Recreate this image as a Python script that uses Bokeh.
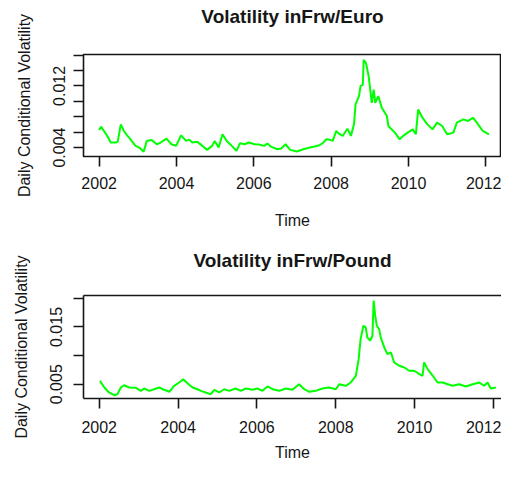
from bokeh.plotting import figure
from bokeh.layouts import column
from bokeh.models import FixedTicker, Range1d, LinearAxis, CustomJSTickFormatter
from bokeh.embed import file_html
from bokeh.resources import INLINE

# ---- data ----
years_euro = [2002.00, 2002.05, 2002.10, 2002.18, 2002.25, 2002.30, 2002.43, 2002.48, 2002.56, 2002.59,
              2002.64, 2002.73, 2002.81, 2002.94, 2003.04, 2003.15, 2003.23, 2003.36, 2003.49, 2003.59,
              2003.74, 2003.87, 2003.99, 2004.12, 2004.25, 2004.33, 2004.41, 2004.54, 2004.67, 2004.79,
              2004.92, 2004.99, 2005.09, 2005.19, 2005.30, 2005.43, 2005.55, 2005.64, 2005.76, 2005.87,
              2006.02, 2006.13, 2006.27, 2006.35, 2006.44, 2006.61, 2006.71, 2006.82, 2006.94, 2007.11,
              2007.28, 2007.45, 2007.57, 2007.70, 2007.80, 2007.87, 2007.95, 2008.04, 2008.13, 2008.20,
              2008.30, 2008.42, 2008.51, 2008.59, 2008.63, 2008.72, 2008.76, 2008.82, 2008.84, 2008.90,
              2008.97, 2009.01, 2009.05, 2009.10, 2009.14, 2009.22, 2009.31, 2009.44, 2009.48, 2009.65,
              2009.77, 2009.87, 2009.98, 2010.11, 2010.19, 2010.25, 2010.36, 2010.49, 2010.62, 2010.74,
              2010.87, 2011.00, 2011.16, 2011.25, 2011.42, 2011.54, 2011.67, 2011.80, 2011.92, 2012.08]
vol_euro = [0.00628, 0.00671, 0.00632, 0.00572, 0.00516, 0.00465, 0.00465, 0.00477, 0.00701, 0.00671,
            0.00615, 0.00555, 0.00507, 0.00422, 0.00400, 0.00345, 0.00486, 0.00499, 0.00443, 0.00465,
            0.00516, 0.00443, 0.00422, 0.00559, 0.00486, 0.00503, 0.00465, 0.00474, 0.00422, 0.00370,
            0.00422, 0.00486, 0.00400, 0.00572, 0.00486, 0.00422, 0.00357, 0.00455, 0.00443, 0.00465,
            0.00443, 0.00439, 0.00422, 0.00452, 0.00413, 0.00378, 0.00387, 0.00443, 0.00370, 0.00348,
            0.00378, 0.00400, 0.00413, 0.00430, 0.00465, 0.00507, 0.00503, 0.00486, 0.00615, 0.00581,
            0.00551, 0.00645, 0.00551, 0.00701, 0.00959, 0.01067, 0.01196, 0.01217, 0.01539, 0.01497,
            0.01325, 0.01152, 0.00981, 0.01152, 0.00981, 0.01067, 0.00916, 0.00809, 0.00680, 0.00594,
            0.00507, 0.00555, 0.00594, 0.00636, 0.00572, 0.00894, 0.00787, 0.00701, 0.00636, 0.00723,
            0.00680, 0.00572, 0.00594, 0.00723, 0.00765, 0.00745, 0.00787, 0.00701, 0.00615, 0.00572]

years_pound = [2002.02, 2002.13, 2002.25, 2002.38, 2002.46, 2002.55, 2002.63, 2002.76, 2002.93, 2003.06,
               2003.14, 2003.27, 2003.39, 2003.52, 2003.65, 2003.78, 2003.90, 2004.03, 2004.13, 2004.24,
               2004.37, 2004.49, 2004.58, 2004.70, 2004.83, 2004.92, 2005.04, 2005.17, 2005.30, 2005.46,
               2005.59, 2005.72, 2005.89, 2006.01, 2006.14, 2006.27, 2006.40, 2006.57, 2006.73, 2006.90,
               2007.07, 2007.20, 2007.33, 2007.49, 2007.66, 2007.83, 2008.00, 2008.09, 2008.25, 2008.38,
               2008.51, 2008.58, 2008.63, 2008.70, 2008.76, 2008.80, 2008.87, 2008.93, 2008.96, 2009.00,
               2009.04, 2009.10, 2009.14, 2009.23, 2009.31, 2009.40, 2009.48, 2009.61, 2009.74, 2009.86,
               2009.99, 2010.12, 2010.20, 2010.24, 2010.33, 2010.46, 2010.58, 2010.71, 2010.84, 2010.96,
               2011.13, 2011.30, 2011.47, 2011.64, 2011.76, 2011.85, 2011.93, 2012.06]
vol_pound = [0.00560, 0.00442, 0.00355, 0.00307, 0.00325, 0.00442, 0.00482, 0.00442, 0.00437, 0.00384,
             0.00425, 0.00384, 0.00412, 0.00442, 0.00402, 0.00367, 0.00472, 0.00530, 0.00588, 0.00518,
             0.00442, 0.00412, 0.00384, 0.00355, 0.00325, 0.00402, 0.00355, 0.00412, 0.00384, 0.00425,
             0.00384, 0.00425, 0.00402, 0.00425, 0.00384, 0.00460, 0.00412, 0.00384, 0.00425, 0.00402,
             0.00500, 0.00412, 0.00367, 0.00384, 0.00425, 0.00442, 0.00412, 0.00500, 0.00472, 0.00530,
             0.00647, 0.00938, 0.01288, 0.01522, 0.01492, 0.01317, 0.01260, 0.01347, 0.01960, 0.01697,
             0.01522, 0.01463, 0.01317, 0.01142, 0.01025, 0.01055, 0.00880, 0.00822, 0.00792, 0.00735,
             0.00735, 0.00675, 0.00647, 0.00880, 0.00763, 0.00647, 0.00530, 0.00530, 0.00500, 0.00472,
             0.00500, 0.00460, 0.00500, 0.00530, 0.00472, 0.00530, 0.00425, 0.00442]

x_ticks = [2002, 2004, 2006, 2008, 2010, 2012]
euro_labeled_ticks = [0.004, 0.012]
euro_other_ticks = [0.006, 0.008, 0.010, 0.014, 0.016]
pound_labeled_ticks = [0.005, 0.015]
pound_other_ticks = [0.010, 0.020]

titles = ["Volatility inFrw/Euro", "Volatility inFrw/Pound"]
y_label = "Daily Conditional Volatility"
x_label = "Time"

FONT = "Liberation Sans"
INK = "#161616"


def make_panel(title, xs, ys, xr, yr, major, minor, width, height, bl, bt, bb,
               ytick_std, ylab_std, xtick_std, xlab_std, title_gap, closed):
    p = figure(width=width, height=height, output_backend="svg", toolbar_location=None,
               x_range=Range1d(*xr), y_range=Range1d(*yr),
               min_border_left=bl, min_border_right=0, min_border_top=bt, min_border_bottom=bb)
    p.line(xs, ys, line_color="#00ff00", line_width=2)
    p.grid.visible = False
    p.background_fill_color = "white"
    p.border_fill_color = "white"

    xa = p.below[0]
    ya = p.left[0]
    xa.ticker = FixedTicker(ticks=x_ticks, minor_ticks=[])
    ya.ticker = FixedTicker(ticks=major, minor_ticks=minor)
    for ax in (xa, ya):
        ax.major_label_text_font = FONT
        ax.major_label_text_font_size = "16px"
        ax.major_label_text_color = INK
        ax.axis_label_text_font = FONT
        ax.axis_label_text_font_size = "16px"
        ax.axis_label_text_font_style = "normal"
        ax.axis_label_text_color = INK
        ax.major_tick_in = 0
        ax.major_tick_out = 10
        ax.minor_tick_in = 0
        ax.minor_tick_out = 10
        ax.major_tick_line_color = INK
        ax.minor_tick_line_color = INK
        ax.major_tick_line_width = 1.6
        ax.minor_tick_line_width = 1.6
        ax.axis_line_color = None if closed else INK
        ax.axis_line_width = 1.6
    xa.axis_label = x_label
    xa.major_label_standoff = xtick_std
    xa.axis_label_standoff = xlab_std
    ya.axis_label = y_label
    ya.major_label_orientation = "parallel"
    ya.major_label_standoff = ytick_std
    ya.axis_label_standoff = ylab_std

    # blank axis above the frame: one invisible, unlabelled tick gives it a height that
    # lifts the title clear of the box (for the open box its line is the top side)
    top = LinearAxis(ticker=FixedTicker(ticks=[(xr[0] + xr[1]) / 2], minor_ticks=[]),
                     formatter=CustomJSTickFormatter(code="return ''"),
                     major_label_text_font_size="0px", major_label_standoff=0,
                     major_tick_in=0, major_tick_out=title_gap, minor_tick_in=0, minor_tick_out=0,
                     major_tick_line_color="white", major_tick_line_width=0.1,
                     axis_line_color=None if closed else INK, axis_line_width=1.6)
    p.add_layout(top, "above")

    if closed:
        p.outline_line_color = INK
        p.outline_line_width = 1.6
    else:
        # the box runs on past the right edge of the window
        p.outline_line_color = None

    p.title.text = title
    p.title.align = "center"
    p.title.text_font = FONT
    p.title.text_font_size = "19px"
    p.title.text_font_style = "bold"
    p.title.text_color = INK
    p.title.standoff = 0
    return p


p1 = make_panel(titles[0], years_euro, vol_euro, (2001.595, 2012.405), (0.00284, 0.01607),
                euro_labeled_ticks, euro_other_ticks, 501, 234, 74, 54, 78,
                8, 18, 10, 20, 28, True)
p2 = make_panel(titles[1], years_pound, vol_pound, (2001.602, 2012.203), (0.0025, 0.0205),
                pound_labeled_ticks, pound_other_ticks, 501, 231, 83, 61, 67,
                11, 18, 12, 8, 25, False)

layout = column(p1, p2, spacing=0)
open("out.html", "w").write(file_html(layout, INLINE))
